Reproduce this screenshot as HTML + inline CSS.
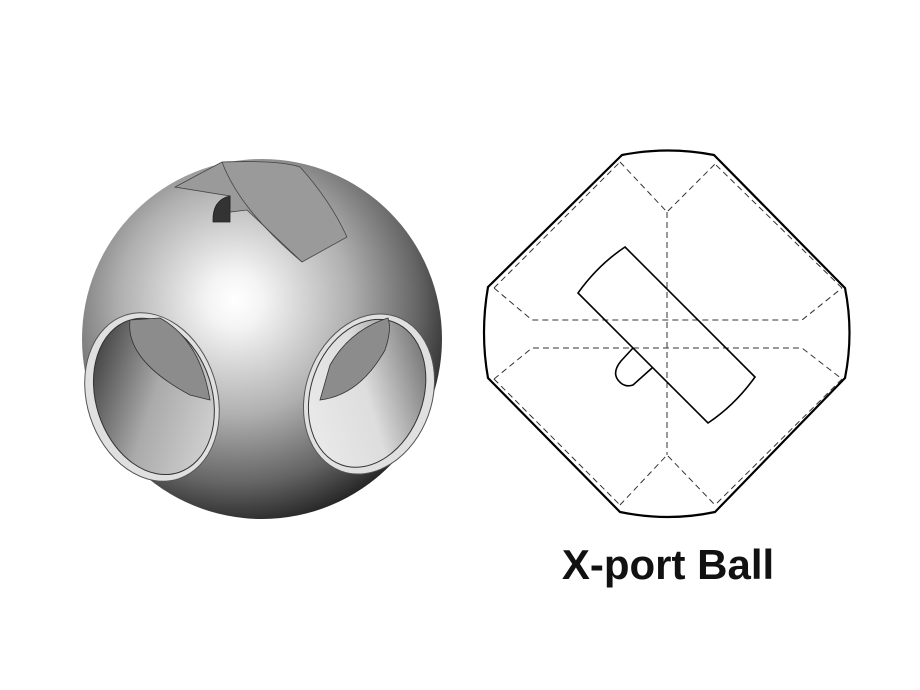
<!DOCTYPE html>
<html><head><style>
html,body{margin:0;padding:0;background:#fff;}
svg{display:block;}
</style></head><body>
<svg width="920" height="690" viewBox="0 0 920 690" xmlns="http://www.w3.org/2000/svg">
<defs>
<radialGradient id="sph" cx="235" cy="300" r="230" gradientUnits="userSpaceOnUse">
<stop offset="0" stop-color="#ffffff"/>
<stop offset="0.12" stop-color="#f4f4f4"/>
<stop offset="0.5" stop-color="#b0b0b0"/>
<stop offset="0.8" stop-color="#646464"/>
<stop offset="1" stop-color="#222"/>
</radialGradient>
<linearGradient id="holeL" x1="0" y1="0" x2="1" y2="1">
<stop offset="0" stop-color="#222"/>
<stop offset="0.5" stop-color="#aaa"/>
<stop offset="1" stop-color="#ddd"/>
</linearGradient>
<linearGradient id="holeR" x1="1" y1="0" x2="0" y2="1">
<stop offset="0" stop-color="#555"/>
<stop offset="0.5" stop-color="#ddd"/>
<stop offset="1" stop-color="#eee"/>
</linearGradient>
</defs>
<circle cx="262" cy="339" r="180" fill="url(#sph)"/>
<path d="M175,187 L222,162 Q280,160 300,167 Q330,200 347,237 L302,262 L247,210 L230,212 L230,196 Z" fill="#9a9a9a" stroke="#444" stroke-width="0.8"/>
<path d="M222,162 Q240,210 302,262" fill="none" stroke="#444" stroke-width="0.8"/>
<path d="M230,196 Q212,200 213,222 L230,222 Z" fill="#333" stroke="#222" stroke-width="0.8"/>
<g transform="rotate(-18 152 397)">
<ellipse cx="152" cy="397" rx="65" ry="86" fill="#e0e0e0" stroke="#555" stroke-width="1"/>
<ellipse cx="154" cy="397" rx="58" ry="80" fill="url(#holeL)" stroke="#333" stroke-width="1"/>
</g>
<path d="M130,320 Q125,360 190,395 L210,400 Q200,340 160,318 Z" fill="#8c8c8c" stroke="#333" stroke-width="0.8"/>
<g transform="rotate(20 369 394)">
<ellipse cx="369" cy="394" rx="63" ry="82" fill="#e0e0e0" stroke="#555" stroke-width="1"/>
<ellipse cx="367" cy="394" rx="56" ry="76" fill="url(#holeR)" stroke="#333" stroke-width="1"/>
</g>
<path d="M320,400 Q360,395 385,350 Q392,330 388,318 Q350,330 330,365 Z" fill="#8c8c8c" stroke="#333" stroke-width="0.8"/>

<g fill="none" stroke="#000">
<path d="M622,155 Q668,146 714,155 L845,288 Q854,333 845,378 L715,512 Q668,522 620,512 L488,378 Q480,333 488,287 Z" stroke-width="2.2"/>
<g stroke-width="1" stroke-dasharray="6,4" stroke="#333">
<path d="M620,162 L667,212 L715,164"/>
<path d="M667,212 L667,455"/>
<path d="M620,505 L667,455 L715,505"/>
<path d="M494,288 L532,320 L802,320 L842,288"/>
<path d="M494,379 L532,348 L802,348 L842,379"/>
<path d="M494,288 L620,162"/>
<path d="M842,288 L715,164"/>
<path d="M494,379 L620,505"/>
<path d="M842,379 L715,505"/>
</g>
<path d="M625,247 L755,377 Q735,405 708,423 L578,293 Q598,265 625,247 Z" stroke-width="1.6"/>
<path d="M633,348 L621,361 Q612,372 618,380 Q624,388 633,385 L652,368" stroke-width="1.6"/>
</g>
<text x="668" y="579" text-anchor="middle" font-family="Liberation Sans, sans-serif" font-weight="bold" font-size="42" fill="#111">X-port Ball</text>
</svg>
</body></html>
